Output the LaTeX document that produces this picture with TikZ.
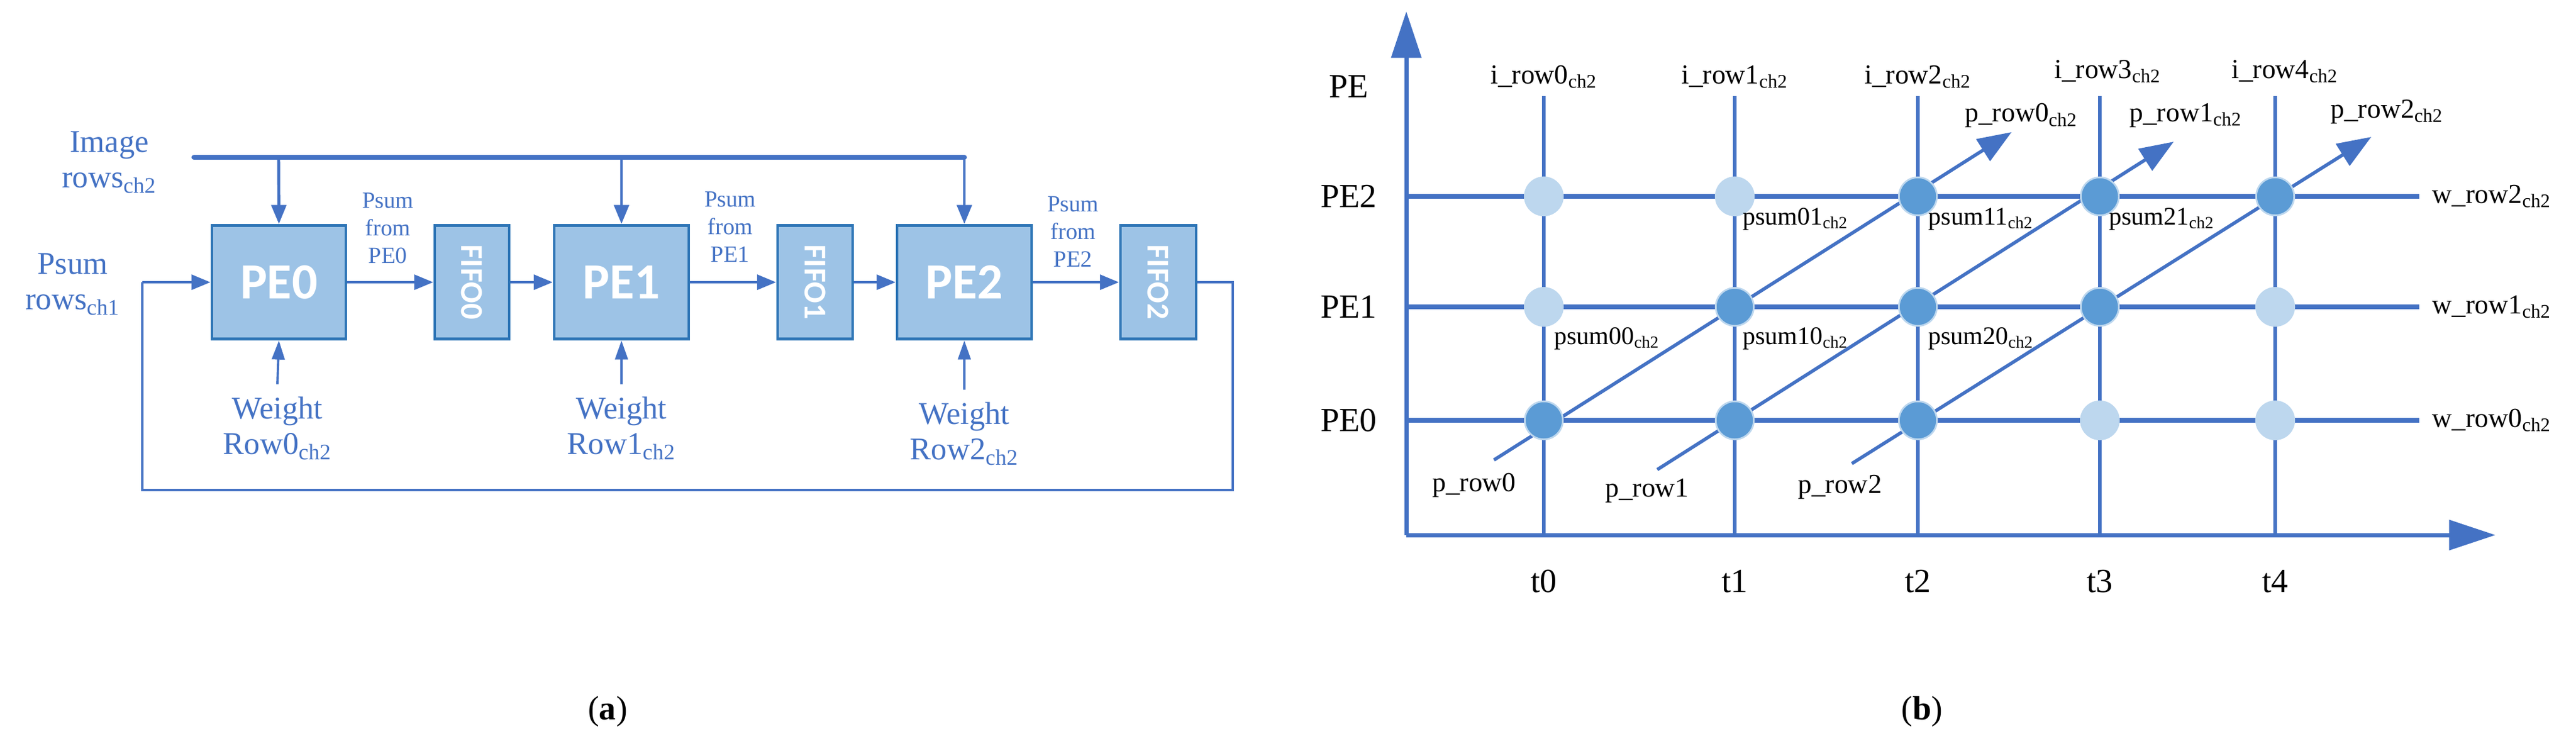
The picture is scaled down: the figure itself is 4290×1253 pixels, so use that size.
\documentclass[tikz,border=0pt]{standalone}
\usepackage{fontspec}
\setmainfont{Liberation Serif}
\newfontfamily\boxfont{Carlito}
\usetikzlibrary{arrows.meta}
\definecolor{lb}{HTML}{4472C4}
\definecolor{bf}{HTML}{9DC3E6}
\definecolor{bd}{HTML}{2E75B6}
\definecolor{cl}{HTML}{BDD7EE}
\definecolor{cd}{HTML}{5B9BD5}
\newcommand\chs[1]{\textsubscript{#1}}
\tikzset{
 lbl/.style={text=lb,font=\fontsize{15}{17}\selectfont,align=center,inner sep=0},
 sml/.style={text=lb,font=\fontsize{11}{13}\selectfont,align=center,inner sep=0},
 blk/.style={text=black,font=\fontsize{13}{15}\selectfont,inner sep=0},
 pe/.style={draw=bd,fill=bf,line width=1.4pt,text=white,font=\boxfont\bfseries\fontsize{24}{24}\selectfont,inner sep=0},
 ff/.style={draw=bd,fill=bf,line width=1.4pt,text=white,font=\boxfont\bfseries\fontsize{15}{15}\selectfont,inner sep=0},
 ar/.style={draw=lb,line width=1.4pt,-{Triangle[length=9pt,width=7pt]}},
 dot/.style={circle,minimum size=18pt,inner sep=0,draw=cl,line width=0.8pt},
 gl/.style={draw=lb,line width=2.2pt},
 gv/.style={draw=lb,line width=1.5pt},
}
\begin{document}
\begin{tikzpicture}[x=0.01cm,y=-0.01cm]
\useasboundingbox (0,0) rectangle (4290,1253);
% ---------- (a)
\foreach \n/\xa/\xb/\t in {p0/353/576/PE0,p1/923/1147/PE1,p2/1494/1718/PE2}
  \node[pe,minimum width={(\xb-\xa)*0.01cm},minimum height=1.89cm] (\n) at ({(\xa+\xb)/2},470) {\t};
\foreach \n/\xa/\xb/\t in {f0/724/848/FIFO0,f1/1295/1420/FIFO1,f2/1866/1992/FIFO2}
  \node[ff,minimum width={(\xb-\xa)*0.01cm},minimum height=1.89cm] (\n) at ({(\xa+\xb)/2},470) {\rotatebox{-90}{\t}};
\node[lbl] (img) at (182,270) {Image\\rows\chs{ch2}};
\coordinate (b0) at (323,262); \coordinate (b3) at (1606,262);
\draw[lb,line width=2.4pt,line cap=round] (b0) -- (b3);
\foreach \n/\xx in {p0/464,p1/1035,p2/1606}
  \draw[ar] (\xx,262) -- (\n.north);
\draw[ar] (p0) -- (f0); \draw[ar] (f0) -- (p1); \draw[ar] (p1) -- (f1);
\draw[ar] (f1) -- (p2); \draw[ar] (p2) -- (f2);
\coordinate (r1) at (2053,470); \coordinate (r2) at (2053,816);
\coordinate (l2) at (237,816); \coordinate (l1) at (237,470);
\draw[lb,line width=1.1pt] (f2.east) -- (r1) -- (r2) -- (l2) -- (l1);
\draw[ar] (l1) -- (p0.west);
\node[lbl] (psr) at (121,473) {Psum\\rows\chs{ch1}};
\node[sml] (s0) at (646,380) {Psum\\from\\PE0};
\node[sml] (s1) at (1216,378) {Psum\\from\\PE1};
\node[sml] (s2) at (1787,386) {Psum\\from\\PE2};
\node[lbl] (w0) at (462,713) {Weight\\Row0\chs{ch2}};
\node[lbl] (w1) at (1035,713) {Weight\\Row1\chs{ch2}};
\node[lbl] (w2) at (1606,722) {Weight\\Row2\chs{ch2}};
\foreach \n in {0,1,2} \draw[lb,line width=1.1pt,-{Triangle[length=9pt,width=6pt]}] (w\n.north)++(0,-20) -- (p\n.south);
\node[blk,font=\fontsize{16}{18}\selectfont] (ca) at (1012,1185) {(\textbf{a})};
% ---------- (b)
\coordinate (o) at (2342,891);
\coordinate (yt) at (2342,19); \coordinate (xt) at (4156,891);
\draw[lb,line width=2pt,-{Triangle[length=22pt,width=14pt]}] (o) -- (yt);
\draw[lb,line width=2pt,-{Triangle[length=22pt,width=14pt]}] (o) -- (xt);
\foreach \i/\xx in {0/2571,1/2889,2/3194,3/3497,4/3789}{
  \coordinate (vt\i) at (\xx,160); \coordinate (vb\i) at (\xx,891);
  \draw[gv] (vt\i) -- (vb\i);
  \node[blk,font=\fontsize{16}{18}\selectfont] (t\i) at (\xx,968) {t\i};
}
\foreach \r/\yy in {0/700,1/511,2/327}{
  \coordinate (hl\r) at (2342,\yy); \coordinate (hr\r) at (4029,\yy);
  \draw[gl] (hl\r) -- (hr\r);
  \node[blk,font=\fontsize{16}{18}\selectfont] (pe\r) at (2246,\yy) {PE\r};
  \node[blk,anchor=west] (w\r) at (4050,\yy) {w\_row\r\chs{ch2}};
}
\node[blk,font=\fontsize{16}{18}\selectfont] (pel) at (2246,144) {PE};
\node[blk] (i0) at (2571,128) {i\_row0\chs{ch2}};
\node[blk] (i1) at (2889,128) {i\_row1\chs{ch2}};
\node[blk] (i2) at (3194,128) {i\_row2\chs{ch2}};
\node[blk] (i3) at (3510,119) {i\_row3\chs{ch2}};
\node[blk] (i4) at (3805,119) {i\_row4\chs{ch2}};
% diagonals
\coordinate (d0s) at (2488,766); \coordinate (d0e) at (3350,220);
\coordinate (d1s) at (2760,782); \coordinate (d1e) at (3620,236);
\coordinate (d2s) at (3084,772); \coordinate (d2e) at (3949,228);
\foreach \k in {0,1,2}
  \draw[lb,line width=1.6pt,-{Triangle[length=16pt,width=12pt]}] (d\k s) -- (d\k e);
% dots
\foreach \c/\xx/\yy in {cl/2571/327,cl/2889/327,cd/3194/327,cd/3497/327,cd/3789/327,
  cl/2571/511,cd/2889/511,cd/3194/511,cd/3497/511,cl/3789/511,
  cd/2571/700,cd/2889/700,cd/3194/700,cl/3497/700,cl/3789/700}
  \node[dot,fill=\c] at (\xx,\yy) {};
\node[blk,font=\fontsize{12}{14}\selectfont] (q01) at (2990,365) {psum01\chs{ch2}};
\node[blk,font=\fontsize{12}{14}\selectfont] (q11) at (3299,365) {psum11\chs{ch2}};
\node[blk,font=\fontsize{12}{14}\selectfont] (q21) at (3600,365) {psum21\chs{ch2}};
\node[blk,font=\fontsize{12}{14}\selectfont] (q00) at (2676,564) {psum00\chs{ch2}};
\node[blk,font=\fontsize{12}{14}\selectfont] (q10) at (2990,564) {psum10\chs{ch2}};
\node[blk,font=\fontsize{12}{14}\selectfont] (q20) at (3299,564) {psum20\chs{ch2}};
\node[blk] (pr0) at (2455,808) {p\_row0};
\node[blk] (pr1) at (2743,817) {p\_row1};
\node[blk] (pr2) at (3064,811) {p\_row2};
\node[blk] (pc0) at (3366,192) {p\_row0\chs{ch2}};
\node[blk] (pc1) at (3640,192) {p\_row1\chs{ch2}};
\node[blk] (pc2) at (3975,186) {p\_row2\chs{ch2}};
\node[blk,font=\fontsize{16}{18}\selectfont] (cb) at (3201,1185) {(\textbf{b})};
\end{tikzpicture}
\end{document}
